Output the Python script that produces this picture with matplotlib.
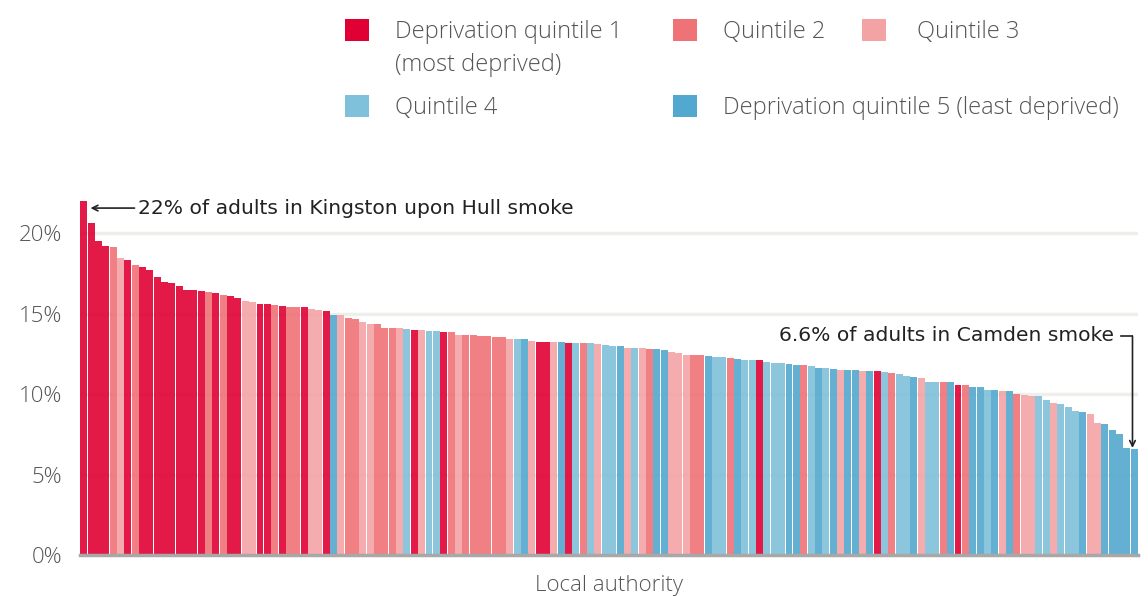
import matplotlib
matplotlib.use("Agg")
from matplotlib import pyplot as plt
from matplotlib.patches import Rectangle
import numpy as np

# smoking prevalence (%) by local authority, sorted high -> low
values = [
    22.0, 20.62, 19.50, 19.19, 19.13, 18.47, 18.32, 18.01, 17.89, 17.70,
    17.27, 16.96, 16.89, 16.71, 16.46, 16.46, 16.40, 16.34, 16.27, 16.15,
    16.09, 15.96, 15.78, 15.71, 15.59, 15.59, 15.53, 15.47, 15.40, 15.40,
    15.40, 15.28, 15.22, 15.16, 14.91, 14.91, 14.72, 14.66, 14.47, 14.35,
    14.35, 14.10, 14.10, 14.10, 14.04, 13.98, 13.98, 13.91, 13.91, 13.85,
    13.85, 13.66, 13.66, 13.66, 13.60, 13.60, 13.54, 13.54, 13.42, 13.42,
    13.42, 13.29, 13.23, 13.23, 13.23, 13.23, 13.17, 13.17, 13.17, 13.17,
    13.11, 13.04, 12.98, 12.98, 12.86, 12.86, 12.86, 12.80, 12.80, 12.73,
    12.61, 12.55, 12.42, 12.42, 12.42, 12.36, 12.30, 12.30, 12.24, 12.17,
    12.11, 12.11, 12.11, 11.99, 11.93, 11.93, 11.86, 11.80, 11.80, 11.74,
    11.61, 11.61, 11.55, 11.49, 11.49, 11.49, 11.43, 11.43, 11.43, 11.37,
    11.30, 11.24, 11.12, 11.06, 10.99, 10.75, 10.75, 10.75, 10.75, 10.56,
    10.56, 10.43, 10.43, 10.25, 10.25, 10.19, 10.19, 10.00, 9.94, 9.88,
    9.88, 9.63, 9.44, 9.38, 9.19, 8.94, 8.88, 8.76, 8.20, 8.14,
    7.76, 7.52, 6.65, 6.6,
]
# deprivation quintile of each local authority (1 = most deprived)
quintiles = [
    1, 1, 1, 1, 2, 3, 1, 2, 1, 1,
    1, 1, 1, 1, 1, 1, 1, 2, 1, 2,
    1, 1, 3, 3, 1, 1, 2, 1, 2, 2,
    1, 3, 3, 1, 5, 3, 2, 2, 3, 3,
    2, 2, 2, 3, 4, 1, 3, 4, 4, 1,
    2, 3, 2, 2, 2, 2, 2, 2, 3, 4,
    5, 3, 1, 1, 3, 5, 1, 4, 2, 4,
    3, 4, 4, 5, 3, 4, 3, 2, 5, 5,
    3, 3, 3, 2, 2, 5, 4, 4, 2, 5,
    4, 4, 1, 4, 4, 4, 5, 5, 2, 4,
    5, 4, 5, 3, 5, 5, 3, 5, 1, 4,
    2, 4, 4, 5, 3, 4, 4, 2, 5, 1,
    2, 5, 5, 4, 5, 3, 5, 2, 3, 3,
    4, 4, 3, 4, 4, 4, 5, 3, 3, 5,
    5, 5, 5, 5,
]
legend_labels = [
    "Deprivation quintile 1\n(most deprived)",
    "Quintile 2",
    "Quintile 3",
    "Quintile 4",
    "Deprivation quintile 5 (least deprived)",
]
yticks = [0, 5, 10, 15, 20]
ytick_labels = ["0%", "5%", "10%", "15%", "20%"]

colors = {1: "#E00034", 2: "#EF7276", 3: "#F4A3A5", 4: "#7FC0DA", 5: "#52A8CF"}
label_font = dict(family="Open Sans", fontweight="light", color="#555555")
note_font = dict(family="DejaVu Sans", color="#222222", fontsize=14.6)

W, H = 1148, 596
fig = plt.figure(figsize=(W / 100, H / 100), dpi=100)
ax = fig.add_axes([80 / W, 1 - 555 / H, (1138 - 80) / W, (555 - 196) / H])

x = np.arange(len(values))
ax.bar(x, values, width=0.95, color=[colors[q] for q in quintiles], alpha=0.9,
       linewidth=0, zorder=2)

ax.set_xlim(-0.5, len(values) - 0.5)
ax.set_ylim(0, 22.3)
ax.set_yticks(yticks)
ax.set_yticklabels(ytick_labels, fontsize=16, **label_font)
ax.tick_params(axis="y", length=0, pad=13)
ax.set_xticks([])
ax.yaxis.grid(True, color="#EEEEEA", lw=2.5, zorder=0)
ax.set_axisbelow(True)
for s in ["top", "right", "left"]:
    ax.spines[s].set_visible(False)
ax.spines["bottom"].set_color("#A8A8A8")
ax.spines["bottom"].set_linewidth(2.5)
ax.spines["bottom"].set_zorder(3)

fig.text(609 / W, 1 - 585 / H, "Local authority", ha="center", va="center",
         fontsize=16, **label_font)

# annotations
ax.annotate("", xy=(0.55, 21.55), xytext=(7.3, 21.55),
            arrowprops=dict(arrowstyle="->", color="#222222", lw=1.2))
ax.text(7.4, 21.5, "22% of adults in Kingston upon Hull smoke", ha="left",
        va="center", **note_font)

last = len(values) - 1
ax.text(last - 2.7, 13.66, "6.6% of adults in Camden smoke", ha="right",
        va="center", **note_font)
ax.plot([last - 1.8, last - 0.25], [13.6, 13.6], color="#222222", lw=1.2)
ax.annotate("", xy=(last - 0.25, values[-1] + 0.05), xytext=(last - 0.25, 13.6),
            arrowprops=dict(arrowstyle="->", color="#222222", lw=1.2,
                            shrinkA=0, shrinkB=0))

# legend
legend_pos = [(345, 30), (673, 30), (862, 30), (345, 106), (673, 106)]
text_dx = [50, 50, 55, 50, 50]
for i, (lab, (px, py)) in enumerate(zip(legend_labels, legend_pos)):
    fig.add_artist(Rectangle((px / W, 1 - (py + 11) / H), 24 / W, 22 / H,
                             transform=fig.transFigure, color=colors[i + 1], lw=0))
    for j, line in enumerate(lab.split("\n")):
        fig.text((px + text_dx[i]) / W, 1 - (py + 2 + 33 * j) / H, line, ha="left",
                 va="center", fontsize=17, **label_font)

fig.savefig("out.png", dpi=100)
